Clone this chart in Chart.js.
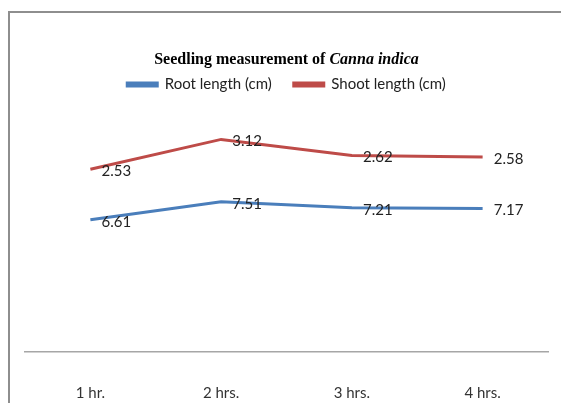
<!DOCTYPE html>
<html>
<head>
<meta charset="utf-8">
<script src="https://cdn.jsdelivr.net/npm/chart.js@4.4.1/dist/chart.umd.min.js"></script>
<style>
  html, body { margin: 0; padding: 0; background: #fff; overflow: hidden; }
  #wrap { position: relative; width: 561px; height: 403px; overflow: hidden; }
  .edge { position: absolute; background: #8e8e8e; }
  #edgeTop { left: 8px; top: 11px; width: 553px; height: 2px; }
  #edgeLeft { left: 8px; top: 11px; width: 2px; height: 392px; }
  #title { position: absolute; left: 6px; width: 561px; top: 49px; text-align: center;
           font: bold 16px 'Liberation Serif', 'DejaVu Serif', serif; color: #000; line-height: 20px; }
  #chart { position: absolute; left: 0; top: 0; }
</style>
</head>
<body>
<div id="wrap">
  <div class="edge" id="edgeTop"></div>
  <div class="edge" id="edgeLeft"></div>
  <canvas id="chart" width="561" height="403"></canvas>
  <div id="title">Seedling measurement of <i>Canna indica</i></div>
</div>
<script>
const categories = ['1 hr.', '2 hrs.', '3 hrs.', '4 hrs.'];
const rootLength = [6.61, 7.51, 7.21, 7.17];
const shootLength = [2.53, 3.12, 2.62, 2.58];
const seriesNames = ['Root length (cm)', 'Shoot length (cm)'];

const labelFont = "'Liberation Sans Narrow', 'Lato', 'Liberation Sans', sans-serif";

// draws the value next to each point, like the Excel data labels
const valueLabels = {
    id: 'valueLabels',
    afterDatasetsDraw(chart) {
        const ctx = chart.ctx;
        ctx.save();
        ctx.font = '15px ' + labelFont;
        ctx.fillStyle = '#222';
        ctx.textAlign = 'center';
        ctx.textBaseline = 'middle';
        chart.data.datasets.forEach((ds, i) => {
            const meta = chart.getDatasetMeta(i);
            meta.data.forEach((pt, j) => {
                ctx.fillText(ds.data[j].toFixed(2), pt.x + 26, pt.y + 2);
            });
        });
        ctx.restore();
    }
};

new Chart(document.getElementById('chart'), {
    type: 'line',
    data: {
        labels: categories,
        datasets: [{
            label: seriesNames[0],
            data: rootLength,
            borderColor: '#4a7ebb',
            backgroundColor: '#4a7ebb',
            borderWidth: 3,
            pointRadius: 0,
            tension: 0
        }, {
            label: seriesNames[1],
            data: shootLength,
            borderColor: '#be4b48',
            backgroundColor: '#be4b48',
            borderWidth: 3,
            pointRadius: 0,
            tension: 0
        }]
    },
    options: {
        responsive: false,
        animation: false,
        layout: {
            // the x axis reserves its tick padding twice, hence the negative bottom
            padding: { left: 25, right: 13, top: 55, bottom: -31 }
        },
        scales: {
            x: {
                offset: true,
                grid: { display: false, drawTicks: false },
                border: { display: true, color: '#a6a6a6', width: 1.5 },
                ticks: {
                    padding: 32,
                    color: '#333',
                    font: { family: labelFont, size: 15 }
                }
            },
            y: {
                display: false,
                stacked: true,
                min: 0,
                max: 12.5
            }
        },
        plugins: {
            legend: {
                display: true,
                position: 'top',
                labels: {
                    boxWidth: 30,
                    boxHeight: 3,
                    padding: 22,
                    color: '#222',
                    font: { family: labelFont, size: 15 }
                }
            },
            tooltip: { enabled: false }
        }
    },
    plugins: [valueLabels]
});
</script>
</body>
</html>
